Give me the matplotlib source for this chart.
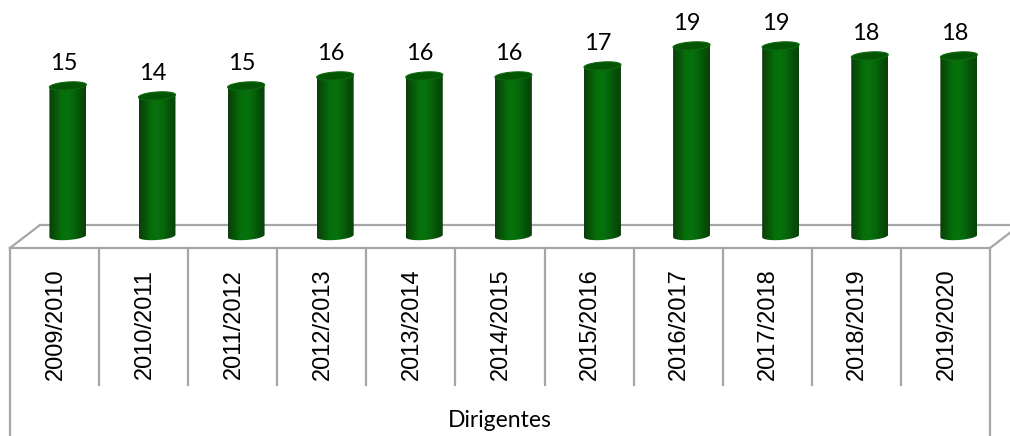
import numpy as np
import matplotlib
matplotlib.use("Agg")
import matplotlib.pyplot as plt
from matplotlib.path import Path
from matplotlib.patches import PathPatch, Polygon

# Dirigentes por ano letivo
anos = ["2009/2010", "2010/2011", "2011/2012", "2012/2013", "2013/2014", "2014/2015",
        "2015/2016", "2016/2017", "2017/2018", "2018/2019", "2019/2020"]
dirigentes = [15, 14, 15, 16, 16, 16, 17, 19, 19, 18, 18]
grupo = "Dirigentes"

fig = plt.figure(figsize=(10.1, 4.36), dpi=100)
ax = fig.add_axes([0, 0, 1, 1])
ax.set_xlim(-0.612, 10.724)
ax.set_ylim(-20, 23.6)
ax.axis("off")

grey = "#a6a6a6"
depth_x = 0.337      # deslocamento do fundo do chão
floor_front = -1.2
floor_back = 1.1
n = len(anos)

# chão 3D
ax.plot([-0.5, n - 0.5], [floor_front, floor_front], color=grey, lw=1.6, zorder=1)
ax.plot([-0.5 + depth_x, n - 0.5 + depth_x], [floor_back, floor_back], color=grey, lw=1.6, zorder=1)
ax.plot([-0.5, -0.5 + depth_x], [floor_front, floor_back], color=grey, lw=1.6, zorder=1)
ax.plot([n - 0.5, n - 0.5 + depth_x], [floor_front, floor_back], color=grey, lw=1.6, zorder=1)

# tabela de categorias
for k in range(n + 1):
    bottom = -20 if k in (0, n) else -14.9
    ax.plot([k - 0.5, k - 0.5], [floor_front, bottom], color=grey, lw=1.6, zorder=1)

for i, ano in enumerate(anos):
    ax.text(i + 0.01, -8.85, ano, rotation=90, ha="center", va="center",
            fontsize=17, family="Liberation Sans", color="black")
ax.text(5, -18.4, grupo, ha="center", va="center", fontsize=16.5, family="Lato", color="black")

# cilindros
w = 0.415
eh = 0.8
shear = 0.6  # inclinação da elipse
shift = 0.15
t = np.linspace(0, 2 * np.pi, 80)
tb = np.linspace(np.pi, 2 * np.pi, 40)

cols = np.array([[0.05, 0.24, 0.05], [0.03, 0.33, 0.03], [0.02, 0.43, 0.04],
                 [0.03, 0.45, 0.05], [0.02, 0.40, 0.04], [0.02, 0.32, 0.03],
                 [0.04, 0.25, 0.04]])
xs = np.linspace(0, 1, len(cols))
xx = np.linspace(0, 1, 200)
grad = np.stack([np.interp(xx, xs, cols[:, c]) for c in range(3)], axis=-1)[None, :, :]

for i, v in enumerate(dirigentes):
    cx = i + shift
    # corpo com a base arredondada
    bx = cx + (w / 2) * np.cos(tb)
    by = (eh / 2) * np.sin(tb) + shear * (bx - cx)
    verts = [(cx - w / 2, v - shear * w / 2)] + list(zip(bx, by)) + [(cx + w / 2, v + shear * w / 2), (cx - w / 2, v - shear * w / 2)]
    body = Path(verts, closed=True)
    im = ax.imshow(grad, extent=[cx - w / 2, cx + w / 2, -eh, v + eh], aspect="auto",
                   interpolation="bilinear", zorder=3)
    clip = PathPatch(body, transform=ax.transData, facecolor="none", edgecolor="none")
    ax.add_patch(clip)
    im.set_clip_path(clip)

    # topo
    tx = cx + (w / 2) * np.cos(t)
    ty = v + (eh / 2) * np.sin(t) + shear * (tx - cx)
    ax.add_patch(Polygon(np.column_stack([tx, ty]), closed=True, facecolor="#045604",
                         edgecolor="#0f6a0f", lw=0.8, zorder=4))

    ax.text(i + 0.1, v + 2.3, str(v), ha="center", va="center", fontsize=17,
            family="Lato", color="black", zorder=5)

fig.savefig("out.png", dpi=100)
